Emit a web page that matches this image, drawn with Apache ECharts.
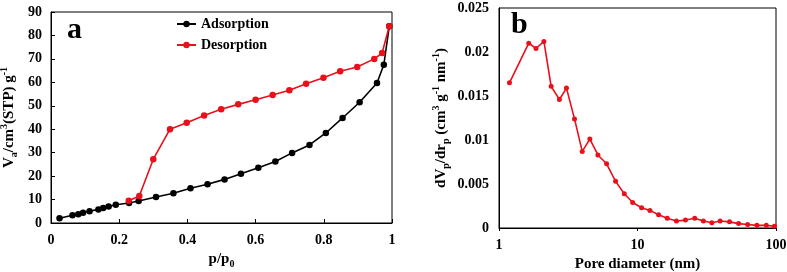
<!DOCTYPE html>
<html>
<head>
<meta charset="utf-8">
<script src="https://cdn.jsdelivr.net/npm/echarts@6/dist/echarts.min.js"></script>
<style>
  html, body { margin: 0; padding: 0; background: #fff; }
  #chart { width: 787px; height: 272px; }
</style>
</head>
<body>
<div id="chart"></div>
<script>
// (a) isotherm
const adsP = [0.025, 0.063, 0.08, 0.094, 0.113, 0.139, 0.153, 0.169, 0.19, 0.229, 0.257, 0.308, 0.359, 0.409, 0.459, 0.509, 0.557, 0.608, 0.658, 0.707, 0.758, 0.806, 0.855, 0.905, 0.956, 0.976, 0.992];
const adsV = [2.0, 3.3, 3.7, 4.4, 5.0, 5.8, 6.4, 7.0, 7.8, 8.5, 9.4, 11.1, 12.7, 14.8, 16.5, 18.6, 21.0, 23.6, 26.2, 29.9, 33.3, 38.4, 44.8, 51.5, 59.7, 67.5, 83.9];
const desP = [0.992, 0.971, 0.948, 0.898, 0.848, 0.799, 0.748, 0.699, 0.65, 0.6, 0.549, 0.499, 0.449, 0.398, 0.349, 0.3, 0.259, 0.228];
const desV = [83.9, 72.5, 70.0, 66.5, 64.7, 62.0, 59.4, 56.6, 54.6, 52.6, 50.6, 48.5, 45.9, 42.8, 40.0, 27.2, 11.5, 9.5];

// (b) pore size distribution
const poreD = [1.19, 1.64, 1.85, 2.11, 2.38, 2.73, 3.07, 3.51, 3.99, 4.53, 5.18, 5.98, 6.95, 8.03, 9.23, 10.7, 12.3, 14.2, 16.4, 19.1, 22.2, 25.9, 29.9, 34.4, 39.5, 46.2, 53.7, 62.4, 72.8, 85.1, 97.3];
const poreV = [0.0165, 0.0210, 0.0204, 0.0212, 0.0161, 0.0146, 0.0159, 0.0124, 0.0087, 0.0101, 0.0083, 0.0073, 0.0053, 0.0039, 0.0029, 0.0023, 0.0020, 0.0015, 0.0011, 0.0008, 0.0009, 0.0011, 0.0008, 0.0006, 0.0008, 0.0007, 0.0005, 0.0004, 0.0003, 0.0003, 0.0002];

const zip = (xs, ys) => xs.map((x, i) => [x, ys[i]]);

const FONT = '"Liberation Serif", "Times New Roman", serif';
const RED = '#e8101a';

const labelStyle = { fontFamily: FONT, fontWeight: 'bold', fontSize: 14, color: '#000' };
const rich = {
  m: { fontFamily: FONT, fontWeight: 'bold', fontSize: 15, color: '#000', lineHeight: 20 },
  sp: { fontFamily: FONT, fontWeight: 'bold', fontSize: 10, color: '#000', lineHeight: 10, verticalAlign: 'top' },
  sb: { fontFamily: FONT, fontWeight: 'bold', fontSize: 10, color: '#000', lineHeight: 10, verticalAlign: 'bottom' }
};
const blackLine = { show: true, lineStyle: { color: '#000', width: 1 } };

const chart = echarts.init(document.getElementById('chart'));

const option = {
  animation: false,
  backgroundColor: '#fff',
  grid: [
    { left: 51, top: 12, width: 341, height: 211, outerBoundsMode: 'none', containLabel: false, show: true, borderColor: '#000', borderWidth: 1, backgroundColor: 'transparent' },
    { left: 499, top: 8, width: 277, height: 220, outerBoundsMode: 'none', containLabel: false, show: true, borderColor: '#000', borderWidth: 1, backgroundColor: 'transparent' }
  ],
  legend: {
    data: ['Adsorption', 'Desorption'],
    orient: 'vertical',
    left: 176,
    top: 17,
    itemGap: 7,
    itemWidth: 19,
    itemHeight: 8,
    padding: 0,
    textStyle: { fontFamily: FONT, fontWeight: 'bold', fontSize: 14, color: '#000' }
  },
  xAxis: [
    {
      gridIndex: 0, type: 'value', min: 0, max: 1, interval: 0.2,
      axisLine: blackLine,
      axisTick: { show: true, inside: true, length: 4, lineStyle: { color: '#000' } },
      axisLabel: Object.assign({ margin: 10 }, labelStyle),
      splitLine: { show: false },
      name: '{m|p/p}{sb|0}', nameLocation: 'middle', nameGap: 25,
      nameTextStyle: { rich: rich }
    },
    {
      gridIndex: 1, type: 'log', logBase: 10, min: 1, max: 100,
      axisLine: blackLine,
      axisTick: { show: true, inside: false, length: 3, lineStyle: { color: '#000' } },
      minorTick: { show: false },
      axisLabel: Object.assign({ margin: 10 }, labelStyle),
      splitLine: { show: false },
      name: '{m|Pore diameter (nm)}', nameLocation: 'middle', nameGap: 25,
      nameTextStyle: { rich: rich }
    }
  ],
  yAxis: [
    {
      gridIndex: 0, type: 'value', min: 0, max: 90, interval: 10,
      axisLine: blackLine,
      axisTick: { show: true, inside: true, length: 4, lineStyle: { color: '#000' } },
      axisLabel: Object.assign({ margin: 9 }, labelStyle),
      splitLine: { show: false },
      name: '{m|V}{sb|a}{m|/cm}{sp|3}{m|(STP) g}{sp|-1}', nameLocation: 'middle', nameGap: 32, nameRotate: 90,
      nameTextStyle: { rich: rich }
    },
    {
      gridIndex: 1, type: 'value', min: 0, max: 0.025, interval: 0.005,
      axisLine: blackLine,
      axisTick: { show: false },
      axisLabel: Object.assign({ margin: 10 }, labelStyle),
      splitLine: { show: false },
      name: '{m|dV}{sb|p}{m|/dr}{sb|p}{m| (cm}{sp|3}{m| g}{sp|-1}{m| nm}{sp|-1}{m|)}', nameLocation: 'middle', nameGap: 48, nameRotate: 90,
      nameTextStyle: { rich: rich }
    }
  ],
  graphic: [
    { type: 'text', left: 67, top: 15, style: { text: 'a', font: 'bold 30px ' + FONT, fill: '#000' } },
    { type: 'text', left: 511, top: 10, style: { text: 'b', font: 'bold 30px ' + FONT, fill: '#000' } }
  ],
  series: [
    {
      name: 'Adsorption', type: 'line', xAxisIndex: 0, yAxisIndex: 0,
      data: zip(adsP, adsV),
      symbol: 'circle', symbolSize: 6.5,
      lineStyle: { color: '#000', width: 1.6 },
      itemStyle: { color: '#000' }
    },
    {
      name: 'Desorption', type: 'line', xAxisIndex: 0, yAxisIndex: 0,
      data: zip(desP, desV),
      symbol: 'circle', symbolSize: 6.5,
      lineStyle: { color: RED, width: 1.6 },
      itemStyle: { color: RED }
    },
    {
      name: 'PSD', type: 'line', xAxisIndex: 1, yAxisIndex: 1,
      data: zip(poreD, poreV),
      symbol: 'circle', symbolSize: 5,
      lineStyle: { color: RED, width: 1.6 },
      itemStyle: { color: RED }
    }
  ]
};

chart.setOption(option);
</script>
</body>
</html>
